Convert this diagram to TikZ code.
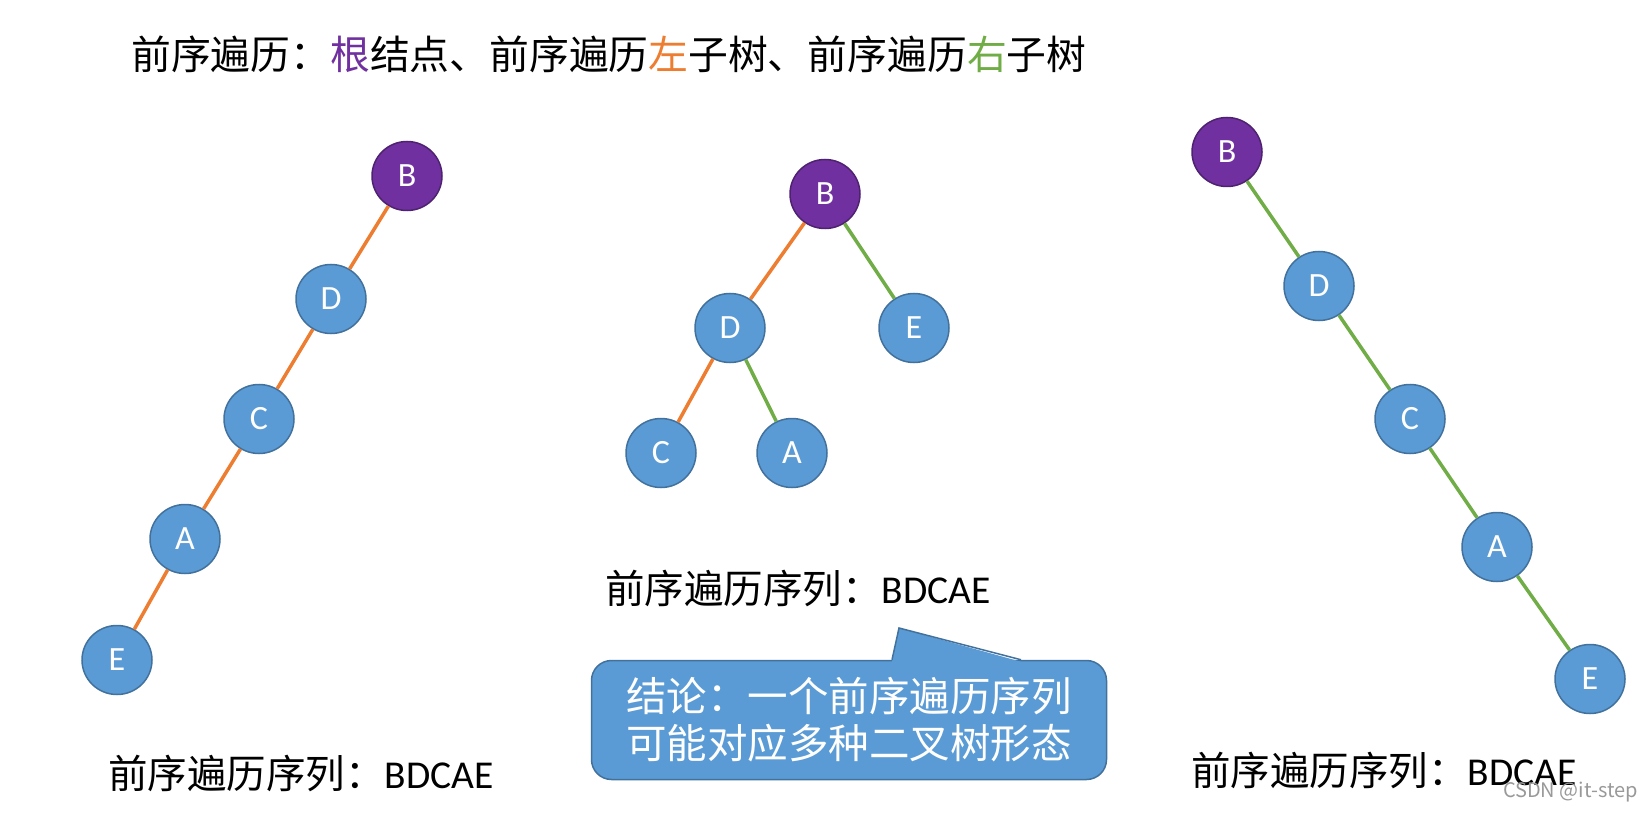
\documentclass[tikz,border=0pt]{standalone}
\usepackage{fontspec}
\setmainfont{Carlito}
\newfontfamily\cjk{Noto Sans CJK SC}
\usetikzlibrary{shapes.geometric}
\definecolor{nodeblue}{HTML}{5B9BD5}
\definecolor{nodeedge}{HTML}{41719C}
\definecolor{rootpurple}{HTML}{7030A0}
\definecolor{leftorange}{HTML}{ED7D31}
\definecolor{rightgreen}{HTML}{70AD47}
\tikzset{
  tnode/.style={ellipse, draw=nodeedge, fill=nodeblue, line width=1.5pt,
    minimum width=70pt, minimum height=69pt, inner sep=0pt, text=white,
    font=\fontsize{34}{36}\selectfont},
  rootnode/.style={tnode, fill=rootpurple, draw=rootpurple!70!black},
  lbranch/.style={leftorange, line width=3.5pt},
  rbranch/.style={rightgreen, line width=3.5pt},
  seqlabel/.style={anchor=west, inner sep=0pt, font=\fontsize{39.5}{44}\selectfont},
}

\begin{document}
\begin{tikzpicture}[x=1pt, y=-1pt]
  \useasboundingbox (0,0) rectangle (1642,813);
  % Title
  \node[seqlabel, font=\fontsize{39.8}{44}\selectfont] (title) at (131,54) {\cjk 前序遍历：\textcolor{rootpurple}{根}结点、前序遍历\textcolor{leftorange}{左}子树、前序遍历\textcolor{rightgreen}{右}子树};

  % Left tree: left children only
  \node[rootnode] (lB) at (407,176) {B};
  \foreach \n/\x/\y in {D/331/299, C/259/419, A/185/539, E/117/660}
    \node[tnode] (l\n) at (\x,\y) {\n};
  \foreach \a/\b in {B/D, D/C, C/A, A/E}
    \draw[lbranch] (l\a) -- (l\b);
  \node[seqlabel] (lseq) at (108,773) {{\cjk 前序遍历序列：}BDCAE};

  % Middle tree
  \node[rootnode] (mB) at (825,194) {B};
  \node[tnode] (mD) at (730,328) {D};
  \node[tnode] (mE) at (914,328) {E};
  \node[tnode] (mC) at (661,453) {C};
  \node[tnode] (mA) at (792,453) {A};
  \draw[lbranch] (mB) -- (mD);
  \draw[rbranch] (mB) -- (mE);
  \draw[lbranch] (mD) -- (mC);
  \draw[rbranch] (mD) -- (mA);
  \node[seqlabel] (mseq) at (605,588) {{\cjk 前序遍历序列：}BDCAE};

  % Right tree: right children only
  \node[rootnode] (rB) at (1227,152) {B};
  \foreach \n/\x/\y in {D/1319/286, C/1410/419, A/1497/547, E/1590/679}
    \node[tnode] (r\n) at (\x,\y) {\n};
  \foreach \a/\b in {B/D, D/C, C/A, A/E}
    \draw[rbranch] (r\a) -- (r\b);
  \node[seqlabel] (rseq) at (1191,770) {{\cjk 前序遍历序列：}BDCAE};

  % Callout
  \node[draw=nodeedge, fill=nodeblue, line width=1.5pt, rounded corners=20pt,
    minimum width=515pt, minimum height=119pt, align=center, text=white,
    font=\cjk\fontsize{40.5}{47}\selectfont] (note) at (849,720)
    {结论：一个前序遍历序列\\可能对应多种二叉树形态};
  \coordinate (tip) at (899,628);
  \fill[nodeblue] ([xshift=43pt,yshift=-2pt]note.north) -- (tip) -- ([xshift=172pt,yshift=-2pt]note.north) -- cycle;
  \draw[nodeedge, line width=1.5pt] ([xshift=43pt]note.north) -- (tip) -- ([xshift=172pt]note.north);

  \node[anchor=east, inner sep=0pt, text=gray!80, font=\cjk\fontsize{20}{22}\selectfont] (mark) at (1638,792) {CSDN @it-step};
\end{tikzpicture}
\end{document}
